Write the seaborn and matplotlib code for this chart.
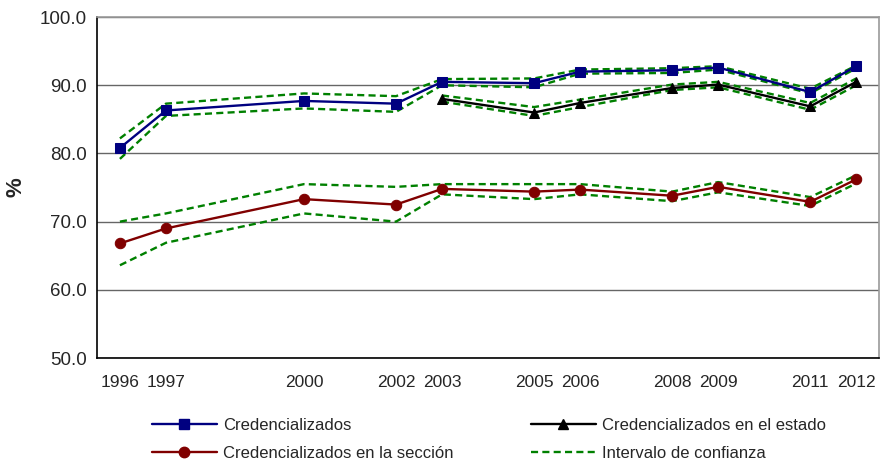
import numpy as np
import pandas as pd
import matplotlib
matplotlib.use('Agg')
import matplotlib.pyplot as plt
import seaborn as sns
from matplotlib.lines import Line2D
from matplotlib.ticker import FixedLocator, FormatStrFormatter

years = [1996, 1997, 2000, 2002, 2003, 2005, 2006, 2008, 2009, 2011, 2012]
years_estado = [2003, 2005, 2006, 2008, 2009, 2011, 2012]

# Credencializados
cred = [80.8, 86.3, 87.7, 87.3, 90.5, 90.3, 92.0, 92.2, 92.6, 89.0, 92.8]
cred_hi = [82.2, 87.3, 88.8, 88.4, 90.9, 91.0, 92.3, 92.5, 92.8, 89.5, 92.9]
cred_lo = [79.2, 85.5, 86.6, 86.1, 90.0, 89.7, 91.7, 91.8, 92.3, 88.8, 92.5]

# Credencializados en el estado
estado = [88.0, 86.0, 87.4, 89.6, 90.1, 86.9, 90.5]
estado_hi = [88.5, 86.8, 87.9, 90.1, 90.5, 87.4, 91.0]
estado_lo = [87.6, 85.5, 86.8, 89.3, 89.7, 86.4, 90.0]

# Credencializados en la sección
seccion = [66.8, 69.0, 73.3, 72.5, 74.8, 74.4, 74.7, 73.8, 75.1, 72.9, 76.2]
seccion_hi = [70.0, 71.2, 75.5, 75.1, 75.5, 75.5, 75.5, 74.4, 75.8, 73.6, 76.8]
seccion_lo = [63.6, 66.9, 71.2, 70.0, 74.0, 73.3, 74.0, 73.0, 74.3, 72.3, 75.6]

labels = ['Credencializados', 'Credencializados en el estado',
          'Credencializados en la sección', 'Intervalo de confianza']

sns.set_style('white')
plt.rcParams['font.family'] = ['Liberation Sans', 'DejaVu Sans']

fig = plt.figure(figsize=(8.81, 4.61), dpi=100)
ax = fig.add_axes([0.110, 0.2234, 0.888, 0.7396])

green = '#008000'
ci_kw = dict(color=green, linewidth=1.7, legend=False)
for xs, ys in [(years, cred_hi), (years, cred_lo), (years_estado, estado_hi),
               (years_estado, estado_lo), (years, seccion_hi), (years, seccion_lo)]:
    sns.lineplot(x=xs, y=ys, ax=ax, **ci_kw)
for line in ax.lines:
    line.set_linestyle((0, (3, 1.8)))

sns.lineplot(x=years, y=cred, ax=ax, color='#000080', linewidth=1.7,
             marker='s', markersize=7, markeredgecolor='#000080', legend=False)
sns.lineplot(x=years_estado, y=estado, ax=ax, color='black', linewidth=1.7,
             marker='^', markersize=7, markeredgecolor='black', legend=False)
sns.lineplot(x=years, y=seccion, ax=ax, color='#800000', linewidth=1.7,
             marker='o', markersize=7.5, markeredgecolor='#800000', legend=False)

ax.set_xlim(1995.5, 2012.5)
ax.set_ylim(50, 100)
ax.set_yticks(np.arange(50, 101, 10))
ax.yaxis.set_major_formatter(FormatStrFormatter('%.1f'))
ax.set_xticks(years)
ax.set_xticklabels([str(y) for y in years])
ax.xaxis.set_minor_locator(FixedLocator(np.arange(1995.5, 2013, 1)))
ax.tick_params(axis='x', which='major', length=0, labelsize=12.5, pad=12)
ax.tick_params(axis='x', which='minor', length=4, width=1, color='#808080', direction='out')
ax.tick_params(axis='y', length=4, width=1, color='#808080', direction='out', labelsize=13.5, pad=3)
ax.grid(axis='y', color='#666666', linewidth=1)
ax.set_axisbelow(True)

for s in ['left', 'bottom']:
    ax.spines[s].set_color('black')
    ax.spines[s].set_linewidth(1.2)
for s in ['top', 'right']:
    ax.spines[s].set_color('#9a9a9a')
    ax.spines[s].set_linewidth(1.2)

ax.set_ylabel('%', fontsize=16, fontweight='bold', labelpad=10)
ax.set_xlabel('')

handles = [
    Line2D([], [], color='#000080', lw=1.7, marker='s', markersize=7),
    Line2D([], [], color='#800000', lw=1.7, marker='o', markersize=7.5),
    Line2D([], [], color='black', lw=1.7, marker='^', markersize=7),
    Line2D([], [], color=green, lw=1.7, linestyle=(0, (3, 1.8))),
]
fig.legend(handles, [labels[0], labels[2], labels[1], labels[3]], ncol=2,
           loc='center', bbox_to_anchor=(0.555, 0.047), frameon=False,
           fontsize=12, handlelength=3.9, handletextpad=0.4, columnspacing=4.6,
           labelspacing=0.75)

fig.savefig('out.png', dpi=100)
